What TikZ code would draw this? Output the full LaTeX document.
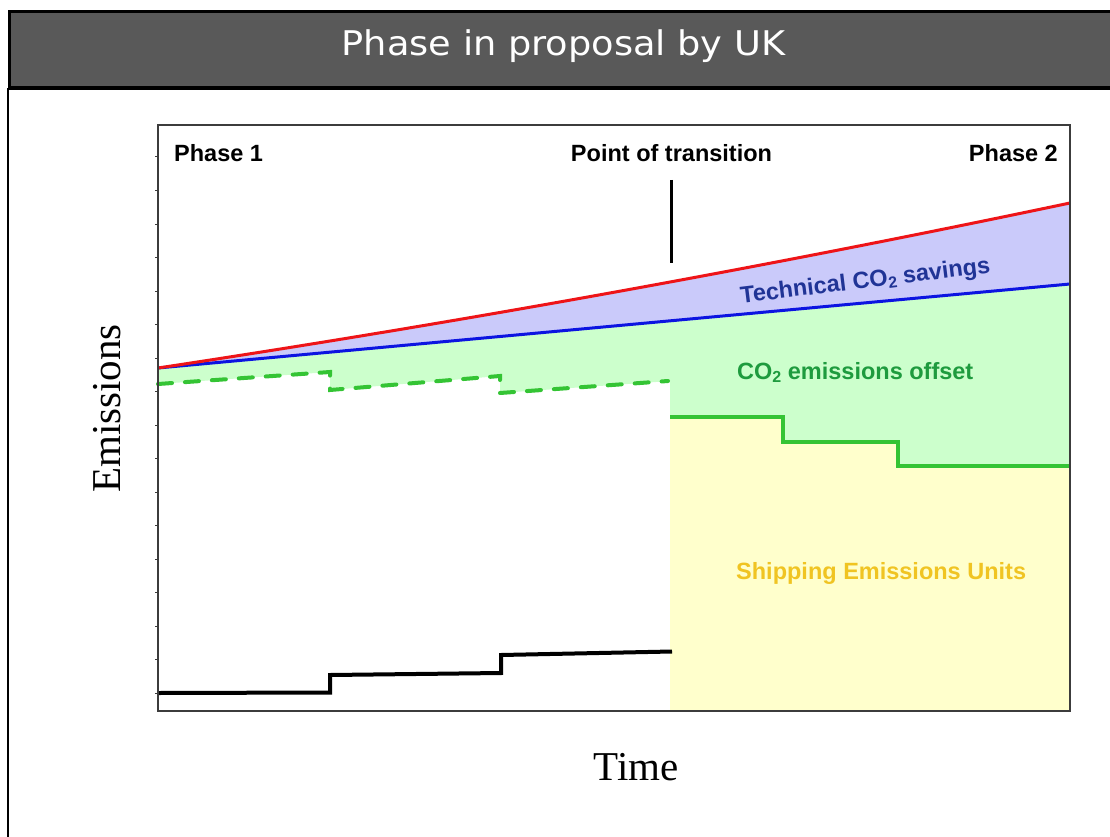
\documentclass[tikz,border=0pt]{standalone}
\usepackage{fontspec}
\setmainfont{Liberation Serif}
\newfontfamily\labfont{Liberation Sans}
\newfontfamily\titlefont{DejaVu Sans}[FakeStretch=1.08]
\definecolor{headgray}{RGB}{89,89,89}
\definecolor{framegray}{RGB}{60,60,60}
\definecolor{baseline red}{RGB}{238,20,24}
\definecolor{techblue}{RGB}{12,20,225}
\definecolor{techtext}{RGB}{32,52,150}
\definecolor{lavender}{RGB}{202,202,250}
\definecolor{mint}{RGB}{204,255,204}
\definecolor{offsetgreen}{RGB}{52,196,52}
\definecolor{offsettext}{RGB}{30,155,62}
\definecolor{cream}{RGB}{255,255,204}
\definecolor{sectext}{RGB}{240,196,34}
\newcommand{\lowtwo}{\raisebox{-0.3ex}{\fontsize{16}{16}\selectfont 2}}
\begin{document}
\begin{tikzpicture}[x=1pt,y=-1pt,
  boldlabel/.style={font=\labfont\bfseries\fontsize{23.5}{26}\selectfont, inner sep=0pt},
  axislabel/.style={font=\fontsize{41}{46}\selectfont, inner sep=0pt},
  curve/.style={line width=3pt, line join=round},
  stepline/.style={line width=4pt, line join=miter}]
\useasboundingbox (0,0) rectangle (1110,837);
\fill[white] (0,0) rectangle (1110,837);

% heading bar and page edge
\draw[line width=3.5pt, fill=headgray] (9.5,11.5) rectangle (1118,88);
\draw[line width=2pt] (8,88) -- (8,842);
\node[font=\titlefont\fontsize{34}{38}\selectfont, text=white, anchor=base, inner sep=0pt]
  (title) at (563.5,56) {Phase in proposal by UK};

% key points of the chart
\coordinate (origin) at (158,368);
\coordinate (redend) at (1070,203);
\coordinate (blueend) at (1070,284);
\coordinate (trans) at (670,417);

% shaded bands
\fill[lavender] (origin) .. controls (462,322) and (766,267) .. (redend) -- (blueend) -- cycle;
\fill[mint] (origin) -- (blueend) -- (1070,466) -- (898,466) -- (898,442) -- (783,442)
  -- (783,417) -- (trans) -- (670,381) -- (500,393) -- (500,376) -- (330,390)
  -- (330,372) -- (158,384) -- cycle;
\fill[cream] (trans) -- (783,417) -- (783,442) -- (898,442) -- (898,466) -- (1070,466)
  -- (1070,711) -- (670,711) -- cycle;

% emission lines
\draw[stepline] (158,693) -- (330,692.5) -- (330,675) -- (501,673) -- (501,655) -- (672,651.5);
\draw[stepline, offsetgreen] (trans) -- (783,417) -- (783,442) -- (898,442) -- (898,466) -- (1070,466);
\draw[offsetgreen, line width=4pt, line cap=round, dash pattern=on 14pt off 13pt]
  (158,384) -- (330,372) -- (330,390) -- (500,376) -- (500,393) -- (668,381);
\draw[curve, techblue] (origin) -- (blueend);
\draw[curve, baseline red] (origin) .. controls (462,322) and (766,267) .. (redend);

% transition marker
\coordinate (marktop) at (671.5,180);
\coordinate (markbot) at (671.5,263);
\draw[line width=2.5pt] (marktop) -- (markbot);

% axes frame and ticks
\draw[line width=1.5pt, framegray] (158,125) rectangle (1070,711);
\foreach \k in {0,...,16}
  \draw[line width=1pt, framegray] (158,693-33.5*\k) -- ++(-3,0);

% labels
\node[boldlabel, anchor=base west] (p1) at (174,162) {Phase 1};
\node[boldlabel, anchor=base] (pt) at (671.5,162) {Point of transition};
\node[boldlabel, anchor=base east] (p2) at (1058,162) {Phase 2};
\node[boldlabel, text=techtext, anchor=base, rotate=7] (tech) at (866,288)
  {Technical CO\lowtwo\ savings};
\node[boldlabel, text=offsettext, anchor=base west] (off) at (737,379)
  {CO\lowtwo\ emissions offset};
\node[boldlabel, text=sectext, anchor=base west] (seu) at (736,579)
  {Shipping Emissions Units};
\node[axislabel, anchor=base, rotate=90] (ylab) at (120,408.5) {Emissions};
\node[axislabel, anchor=base] (xlab) at (636.3,780) {Time};
\end{tikzpicture}
\end{document}
